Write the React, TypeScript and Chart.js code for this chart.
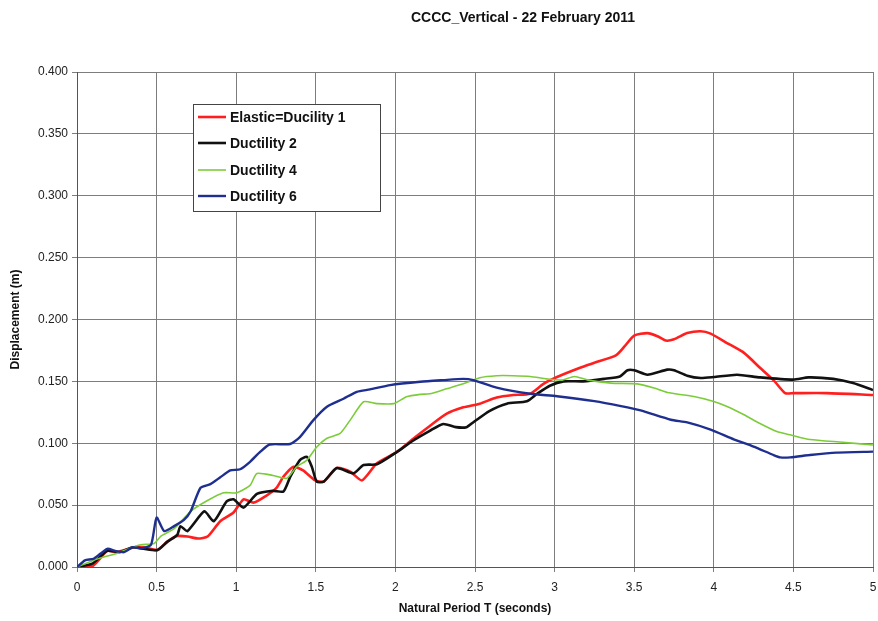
import React, { useEffect, useRef } from "react";
import { Chart, registerables } from "chart.js";

Chart.register(...registerables);

const TITLE = "CCCC_Vertical - 22 February 2011";
const X_TITLE = "Natural Period T (seconds)";
const Y_TITLE = "Displacement (m)";
const SERIES_NAMES = ["Elastic=Ducility 1", "Ductility 2", "Ductility 4", "Ductility 6"];
const SERIES_COLORS = ["#ff1f1f", "#111111", "#7ccc3a", "#1f2f8f"];
const SERIES_WIDTHS = [2.6, 2.6, 1.6, 2.4];

const elasticPts: [number, number][] = [
  [0, 0], [0.1, 0.001], [0.19, 0.013], [0.25, 0.012], [0.36, 0.016], [0.42, 0.016], [0.505, 0.0137],
  [0.568, 0.0205], [0.63, 0.025], [0.695, 0.0246], [0.76, 0.023], [0.82, 0.0246], [0.9, 0.037],
  [0.983, 0.044], [1.046, 0.0547], [1.108, 0.052], [1.17, 0.056], [1.253, 0.064], [1.297, 0.073],
  [1.36, 0.081], [1.42, 0.078], [1.496, 0.07], [1.55, 0.069], [1.632, 0.08], [1.716, 0.077],
  [1.79, 0.07], [1.884, 0.0838], [2.01, 0.093], [2.11, 0.1035], [2.216, 0.114], [2.32, 0.1237],
  [2.426, 0.129], [2.53, 0.132], [2.636, 0.137], [2.74, 0.139], [2.847, 0.14], [2.93, 0.148],
  [3.015, 0.1535], [3.16, 0.161], [3.25, 0.165], [3.385, 0.171], [3.4375, 0.178], [3.5, 0.187],
  [3.583, 0.189], [3.646, 0.1865], [3.698, 0.183], [3.75, 0.184], [3.833, 0.189], [3.917, 0.1905],
  [3.98, 0.1886], [4.083, 0.181], [4.19, 0.173], [4.29, 0.161], [4.375, 0.151], [4.448, 0.1405],
  [4.5, 0.1405], [4.71, 0.1405], [5.0, 0.139],
];

const ductility2Pts: [number, number][] = [
  [0, 0], [0.1, 0.003], [0.19, 0.013], [0.27, 0.012], [0.35, 0.016], [0.42, 0.0147], [0.506, 0.0137],
  [0.568, 0.0205], [0.63, 0.026], [0.65, 0.033], [0.693, 0.029], [0.8, 0.045], [0.859, 0.037],
  [0.94, 0.053], [0.983, 0.0547], [1.046, 0.048], [1.13, 0.059], [1.23, 0.0615], [1.297, 0.061],
  [1.34, 0.073], [1.4, 0.0864], [1.444, 0.089], [1.475, 0.081], [1.506, 0.069], [1.55, 0.069],
  [1.632, 0.08], [1.737, 0.0757], [1.8, 0.0824], [1.884, 0.083], [2.01, 0.093], [2.11, 0.102],
  [2.216, 0.11], [2.3, 0.1156], [2.38, 0.113], [2.447, 0.113], [2.49, 0.117], [2.59, 0.126],
  [2.7, 0.132], [2.826, 0.134], [2.89, 0.14], [2.97, 0.1465], [3.057, 0.15], [3.18, 0.15],
  [3.31, 0.152], [3.41, 0.154], [3.458, 0.159], [3.5, 0.159], [3.583, 0.1554], [3.708, 0.1595],
  [3.75, 0.159], [3.833, 0.1546], [3.917, 0.1527], [4.0, 0.1535], [4.146, 0.1554], [4.29, 0.1532],
  [4.5, 0.1514], [4.594, 0.1532], [4.75, 0.152], [4.875, 0.1486], [5.0, 0.143],
];

const ductility4Pts: [number, number][] = [
  [0, 0], [0.105, 0.0054], [0.168, 0.008], [0.25, 0.011], [0.35, 0.016], [0.402, 0.018], [0.485, 0.019],
  [0.527, 0.025], [0.61, 0.031], [0.714, 0.045], [0.817, 0.0535], [0.92, 0.06], [1.004, 0.06],
  [1.087, 0.066], [1.13, 0.0755], [1.23, 0.074], [1.318, 0.0717], [1.38, 0.081], [1.444, 0.0864],
  [1.506, 0.097], [1.57, 0.104], [1.653, 0.108], [1.716, 0.1187], [1.8, 0.1335], [1.884, 0.132],
  [1.99, 0.132], [2.07, 0.1376], [2.156, 0.1395], [2.216, 0.14], [2.32, 0.144], [2.426, 0.148],
  [2.53, 0.153], [2.636, 0.1546], [2.74, 0.1546], [2.847, 0.154], [2.95, 0.152], [3.042, 0.151],
  [3.125, 0.154], [3.21, 0.151], [3.354, 0.1486], [3.52, 0.148], [3.625, 0.1446], [3.708, 0.141],
  [3.875, 0.1378], [4.0, 0.1338], [4.083, 0.1297], [4.19, 0.123], [4.29, 0.116], [4.396, 0.1095],
  [4.48, 0.1068], [4.604, 0.103], [4.81, 0.1008], [5.0, 0.0986],
];

const ductility6Pts: [number, number][] = [
  [0, 0], [0.05, 0.0054], [0.105, 0.0067], [0.19, 0.0147], [0.24, 0.013], [0.295, 0.012], [0.35, 0.016],
  [0.402, 0.015], [0.465, 0.018], [0.5, 0.04], [0.548, 0.029], [0.61, 0.033], [0.672, 0.038],
  [0.714, 0.045], [0.776, 0.064], [0.838, 0.067], [0.9, 0.0725], [0.963, 0.078], [1.025, 0.079],
  [1.087, 0.085], [1.15, 0.093], [1.21, 0.099], [1.339, 0.0994], [1.4, 0.105], [1.485, 0.1187],
  [1.57, 0.1295], [1.674, 0.136], [1.758, 0.1416], [1.84, 0.1435], [1.967, 0.147], [2.156, 0.1497],
  [2.3, 0.151], [2.426, 0.152], [2.49, 0.151], [2.636, 0.145], [2.847, 0.14], [3.015, 0.138],
  [3.25, 0.134], [3.417, 0.13], [3.54, 0.1265], [3.73, 0.119], [3.833, 0.1168], [3.98, 0.111],
  [4.125, 0.1032], [4.25, 0.0973], [4.375, 0.0905], [4.417, 0.0886], [4.48, 0.0886], [4.604, 0.0905],
  [4.77, 0.0924], [5.0, 0.0932],
];

const SERIES = [elasticPts, ductility2Pts, ductility4Pts, ductility6Pts];

const FONT = "Arial, 'Liberation Sans', sans-serif";

const textPlugin = {
  id: "textPlugin",
  afterDraw(chart: any) {
    const ctx = chart.ctx as CanvasRenderingContext2D;
    const area = chart.chartArea;
    ctx.save();
    ctx.fillStyle = "#111";
    ctx.font = `bold 14px ${FONT}`;
    ctx.textAlign = "center";
    ctx.textBaseline = "middle";
    ctx.fillText(TITLE, 523, 18);
    ctx.font = `bold 12px ${FONT}`;
    ctx.fillText(X_TITLE, (area.left + area.right) / 2, 609);
    ctx.save();
    ctx.translate(16, (area.top + area.bottom) / 2);
    ctx.rotate(-Math.PI / 2);
    ctx.fillText(Y_TITLE, 0, 0);
    ctx.restore();
    const bx = 193, by = 104, bw = 187, bh = 107;
    ctx.fillStyle = "#ffffff";
    ctx.fillRect(bx, by, bw, bh);
    ctx.strokeStyle = "#444";
    ctx.lineWidth = 1;
    ctx.strokeRect(bx + 0.5, by + 0.5, bw, bh);
    const rows = [117, 143, 170, 196];
    SERIES_NAMES.forEach((name, i) => {
      ctx.strokeStyle = SERIES_COLORS[i];
      ctx.lineWidth = SERIES_WIDTHS[i];
      ctx.beginPath();
      ctx.moveTo(198, rows[i]);
      ctx.lineTo(226, rows[i]);
      ctx.stroke();
      ctx.fillStyle = "#111";
      ctx.font = `bold 14px ${FONT}`;
      ctx.textAlign = "left";
      ctx.textBaseline = "middle";
      ctx.fillText(name, 230, rows[i] + 1);
    });
    ctx.restore();
  },
};

export default function App() {
  const ref = useRef<HTMLCanvasElement | null>(null);
  useEffect(() => {
    document.body.style.margin = "0";
    const canvas = ref.current!;
    const chart = new Chart(canvas, {
      type: "line",
      data: {
        datasets: SERIES.map((pts, i) => ({
          label: SERIES_NAMES[i],
          data: pts.map(([x, y]) => ({ x, y })),
          borderColor: SERIES_COLORS[i],
          backgroundColor: SERIES_COLORS[i],
          borderWidth: SERIES_WIDTHS[i],
          pointRadius: 0,
          tension: 0.2,
          fill: false,
          order: 4 - i,
        })),
      },
      options: {
        animation: false,
        responsive: false,
        maintainAspectRatio: false,
        layout: { padding: { top: 72, right: 5, left: 0, bottom: 0 } },
        plugins: { legend: { display: false }, title: { display: false }, tooltip: { enabled: false } },
        scales: {
          x: {
            type: "linear",
            min: 0,
            max: 5,
            border: { color: "#555", width: 1 },
            grid: { color: "#7d7d7d", lineWidth: 1, tickLength: 5, drawTicks: true },
            ticks: {
              stepSize: 0.5,
              autoSkip: false,
              maxRotation: 0,
              padding: 8,
              color: "#222",
              font: { family: FONT, size: 12 },
              callback: (v: any) => String(Number(v)),
            },
            afterFit: (s: any) => { s.height = 54; s.paddingRight = 0; s.paddingLeft = 0; },
          },
          y: {
            type: "linear",
            min: 0,
            max: 0.4,
            border: { color: "#555", width: 1 },
            grid: { color: "#7d7d7d", lineWidth: 1, tickLength: 5, drawTicks: true },
            ticks: {
              stepSize: 0.05,
              autoSkip: false,
              padding: 4,
              color: "#222",
              font: { family: FONT, size: 12 },
              callback: (v: any) => Number(v).toFixed(3),
            },
            afterFit: (s: any) => { s.width = 77; s.paddingTop = 0; s.paddingBottom = 0; },
          },
        },
      },
      plugins: [textPlugin],
    });
    return () => chart.destroy();
  }, []);
  return (
    <div style={{ position: "absolute", left: 0, top: 0, width: 878, height: 621, background: "#fff" }}>
      <canvas ref={ref} width={878} height={621} style={{ width: 878, height: 621 }} />
    </div>
  );
}
